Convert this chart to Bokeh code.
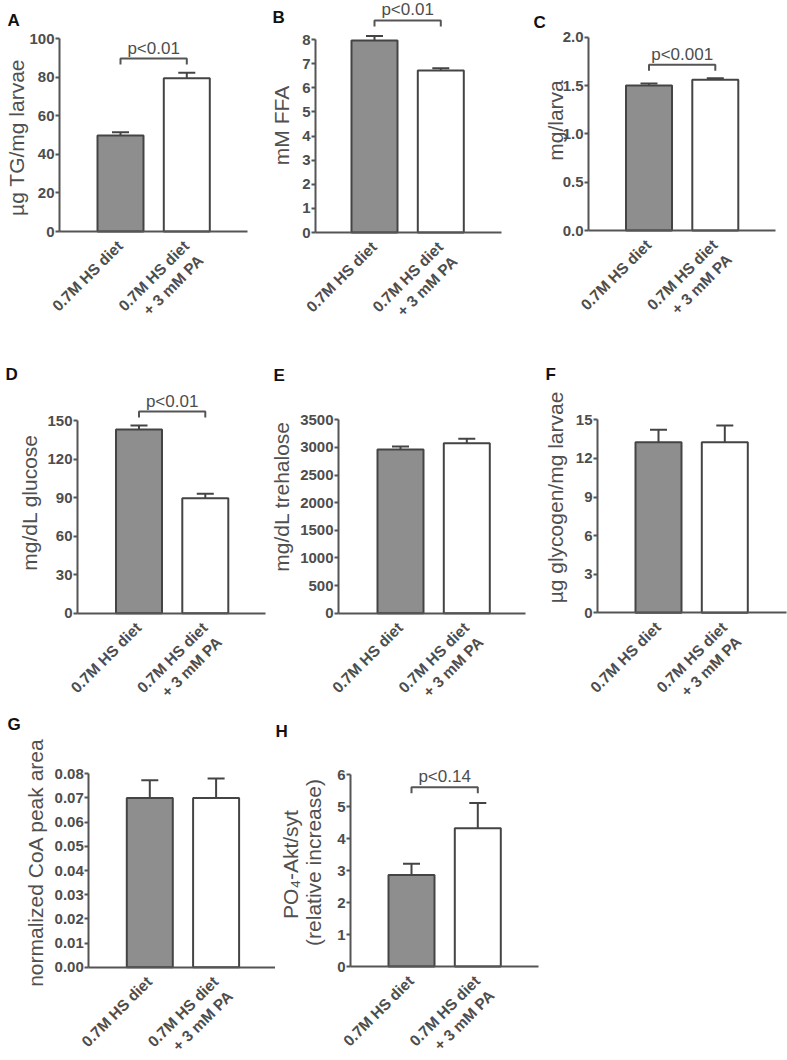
import math
from bokeh.plotting import figure
from bokeh.layouts import row, column
from bokeh.models import (FixedTicker, PrintfTickFormatter, Range1d,
                          Label, Whisker, TeeHead, ColumnDataSource)
from bokeh.embed import file_html
from bokeh.resources import INLINE

# ---------------- data ----------------
groups = ["0.7M HS diet", "0.7M HS diet\n+ 3 mM PA"]

tg_values = [49.8, 79.4]
tg_errors = [1.6, 2.8]
ffa_values = [7.96, 6.71]
ffa_errors = [0.18, 0.10]
mass_values = [1.50, 1.56]
mass_errors = [0.02, 0.015]
glucose_values = [143.0, 89.5]
glucose_errors = [3.1, 3.4]
trehalose_values = [2962, 3076]
trehalose_errors = [55, 80]
glycogen_values = [13.26, 13.26]
glycogen_errors = [0.96, 1.30]
coa_values = [0.070, 0.070]
coa_errors = [0.0073, 0.0081]
akt_values = [2.86, 4.32]
akt_errors = [0.35, 0.79]

tg_ticks = [0, 20, 40, 60, 80, 100]
ffa_ticks = [0, 1, 2, 3, 4, 5, 6, 7, 8]
mass_ticks = [0.0, 0.5, 1.0, 1.5, 2.0]
glucose_ticks = [0, 30, 60, 90, 120, 150]
trehalose_ticks = [0, 500, 1000, 1500, 2000, 2500, 3000, 3500]
glycogen_ticks = [0, 3, 6, 9, 12, 15]
coa_ticks = [0.00, 0.01, 0.02, 0.03, 0.04, 0.05, 0.06, 0.07, 0.08]
akt_ticks = [0, 1, 2, 3, 4, 5, 6]

# ---------------- styles ----------------
FONT = "Liberation Sans"
AXIS_C = "#555555"
TEXT_C = "#4d4d4d"
BAR_LINE = "#444444"
FILLS = ["#8e8e8e", "#ffffff"]
PX_PER_GROUP = 66.3
LABEL_SHIFT = 0.1      # x-label anchor shift (no tick marks are drawn on x)
XLAB_STANDOFF = 19

# layout (pixel coordinates of the reference page)
R1 = (0, 328)
R2 = (328, 706)
R3 = (706, 1060)

panels = [
    dict(letter="A", lpos=(7, 20), ylab=["µg TG/mg larvae"], lab_c=[(15.5, 137)],
         vals=tg_values, errs=tg_errors, ticks=tg_ticks, fmt="%d",
         fig=(0, 262), rowy=R1, axis_x=59, frame_r=247, c1=120, zero=231, topy=38,
         bracket=89.6, ptext="p<0.01"),
    dict(letter="B", lpos=(272, 17), ylab=["mM FFA"], lab_c=[(281, 125)],
         vals=ffa_values, errs=ffa_errors, ticks=ffa_ticks, fmt="%d",
         fig=(262, 522), rowy=R1, axis_x=315, frame_r=501, c1=374, zero=232, topy=39,
         bracket=8.79, ptext="p<0.01"),
    dict(letter="C", lpos=(533, 22), ylab=["mg/larva"], lab_c=[(555, 120)],
         vals=mass_values, errs=mass_errors, ticks=mass_ticks, fmt="%.1f",
         fig=(522, 787), rowy=R1, axis_x=588, frame_r=775, c1=648.5, zero=230, topy=36.7,
         bracket=1.714, ptext="p<0.001"),
    dict(letter="D", lpos=(5, 374), ylab=["mg/dL glucose"], lab_c=[(29, 502)],
         vals=glucose_values, errs=glucose_errors, ticks=glucose_ticks, fmt="%d",
         fig=(0, 268), rowy=R2, axis_x=77, frame_r=265, c1=138.5, zero=612.7, topy=420,
         bracket=157.0, ptext="p<0.01"),
    dict(letter="E", lpos=(273, 375), ylab=["mg/dL trehalose"], lab_c=[(281, 496)],
         vals=trehalose_values, errs=trehalose_errors, ticks=trehalose_ticks, fmt="%d",
         fig=(268, 530), rowy=R2, axis_x=338, frame_r=525, c1=400, zero=612.7, topy=419.3,
         bracket=None, ptext=None),
    dict(letter="F", lpos=(545, 374), ylab=["µg glycogen/mg larvae"], lab_c=[(554.5, 497)],
         vals=glycogen_values, errs=glycogen_errors, ticks=glycogen_ticks, fmt="%d",
         fig=(530, 787), rowy=R2, axis_x=597, frame_r=786, c1=658, zero=612.3, topy=419.3,
         bracket=None, ptext=None),
    dict(letter="G", lpos=(7, 724), ylab=["normalized CoA peak area"], lab_c=[(35, 862)],
         vals=coa_values, errs=coa_errors, ticks=coa_ticks, fmt="%.2f",
         fig=(0, 275), rowy=R3, axis_x=88.3, frame_r=277, c1=149.3, zero=966.7, topy=773.3,
         bracket=None, ptext=None),
    dict(letter="H", lpos=(275, 731), ylab=["PO\u2084-Akt/syt", "(relative increase)"],
         lab_c=[(290, 864), (313, 862)],
         vals=akt_values, errs=akt_errors, ticks=akt_ticks, fmt="%d",
         fig=(275, 560), rowy=R3, axis_x=350, frame_r=538, c1=411, zero=966, topy=774,
         bracket=5.60, ptext="p<0.14"),
]


def make_panel(c):
    fig_l, fig_r = c["fig"]
    row_t, row_b = c["rowy"]
    W = int(round(fig_r - fig_l))
    H = int(round(row_b - row_t))
    top_val = c["ticks"][-1]
    ppu = (c["zero"] - c["topy"]) / top_val
    ppx = PX_PER_GROUP
    c1 = c["c1"]
    x_start = 1 - (c1 - fig_l) / ppx
    x_end = 1 + (fig_r - c1) / ppx
    y_start = -(row_b - c["zero"]) / ppu
    y_end = (c["zero"] - row_t) / ppu
    axis_loc = 1 - (c1 - c["axis_x"]) / ppx
    x_right = 1 + (c["frame_r"] - c1) / ppx

    p = figure(width=W, height=H, title=None, toolbar_location=None, output_backend="svg",
               x_range=Range1d(x_start, x_end), y_range=Range1d(y_start, y_end),
               min_border=0, min_border_left=0, min_border_right=0,
               min_border_top=0, min_border_bottom=0)
    p.outline_line_color = None
    p.grid.visible = False
    p.background_fill_color = "white"
    p.border_fill_color = "white"

    xs = [i + 1 for i in range(len(groups))]

    # y axis
    ya = p.yaxis[0]
    ya.fixed_location = axis_loc
    ya.ticker = FixedTicker(ticks=c["ticks"], minor_ticks=[])
    ya.formatter = PrintfTickFormatter(format=c["fmt"])
    ya.bounds = (0, top_val)
    ya.axis_line_color = AXIS_C
    ya.axis_line_width = 2
    ya.major_tick_line_color = AXIS_C
    ya.major_tick_line_width = 2
    ya.major_tick_out = 4
    ya.major_tick_in = 0
    ya.minor_tick_line_color = None
    ya.major_label_standoff = 1
    ya.major_label_text_font = FONT
    ya.major_label_text_font_style = "bold"
    ya.major_label_text_font_size = "15px"
    ya.major_label_text_color = TEXT_C

    # x axis (group labels, rotated)
    tick_pos = [x + LABEL_SHIFT for x in xs]
    lab_txt = [g if "\n" in g else g + "\n " for g in groups]
    xa = p.xaxis[0]
    xa.fixed_location = 0
    xa.bounds = (axis_loc, x_right)
    xa.ticker = FixedTicker(ticks=tick_pos, minor_ticks=[])
    xa.major_label_overrides = {t: s for t, s in zip(tick_pos, lab_txt)}
    xa.axis_line_color = AXIS_C
    xa.axis_line_width = 2
    xa.major_tick_line_color = None
    xa.minor_tick_line_color = None
    xa.major_tick_out = 0
    xa.major_tick_in = 0
    xa.major_label_orientation = math.pi / 4
    xa.major_label_standoff = XLAB_STANDOFF
    xa.major_label_text_font = FONT
    xa.major_label_text_font_style = "bold"
    xa.major_label_text_font_size = "15.5px"
    xa.major_label_text_color = TEXT_C

    src = ColumnDataSource(dict(
        x=xs, top=c["vals"],
        upper=[v + e for v, e in zip(c["vals"], c["errs"])],
        fill=FILLS))
    p.vbar(x="x", top="top", width=46 / ppx, source=src, fill_color="fill",
           line_color=BAR_LINE, line_width=2)
    wk = Whisker(source=src, base="x", lower="top", upper="upper", dimension="height",
                 line_color=BAR_LINE, line_width=2, lower_head=None,
                 upper_head=TeeHead(size=17, line_color=BAR_LINE, line_width=2))
    p.add_layout(wk)

    if c["bracket"] is not None:
        b = c["bracket"]
        leg = 6.0 / ppu
        p.line(x=[xs[0], xs[0], xs[1], xs[1]],
               y=[b - leg, b, b, b - leg], line_color=AXIS_C, line_width=2)
        p.add_layout(Label(x=(xs[0] + xs[1]) / 2, y=b, y_offset=1, text=c["ptext"],
                           text_align="center", text_baseline="bottom", text_font=FONT,
                           text_font_size="17px", text_color=TEXT_C))

    # y-axis title(s)
    for txt, (cx, cy) in zip(c["ylab"], c["lab_c"]):
        p.add_layout(Label(x=cx - fig_l, y=row_b - cy, x_units="screen", y_units="screen",
                           text=txt, angle=math.pi / 2, text_align="center",
                           text_baseline="middle", text_font=FONT, text_font_size="21px",
                           text_color="#505050"))
    # panel letter
    lx, ly = c["lpos"]
    p.add_layout(Label(x=lx - fig_l, y=row_b - ly, x_units="screen", y_units="screen",
                       text=c["letter"], text_align="left", text_baseline="alphabetic",
                       text_font=FONT, text_font_style="bold", text_font_size="17px",
                       text_color="#111111"))
    return p


figs = [make_panel(c) for c in panels]
layout = column(row(*figs[0:3]), row(*figs[3:6]), row(*figs[6:8]))

open("out.html", "w").write(file_html(layout, INLINE))
